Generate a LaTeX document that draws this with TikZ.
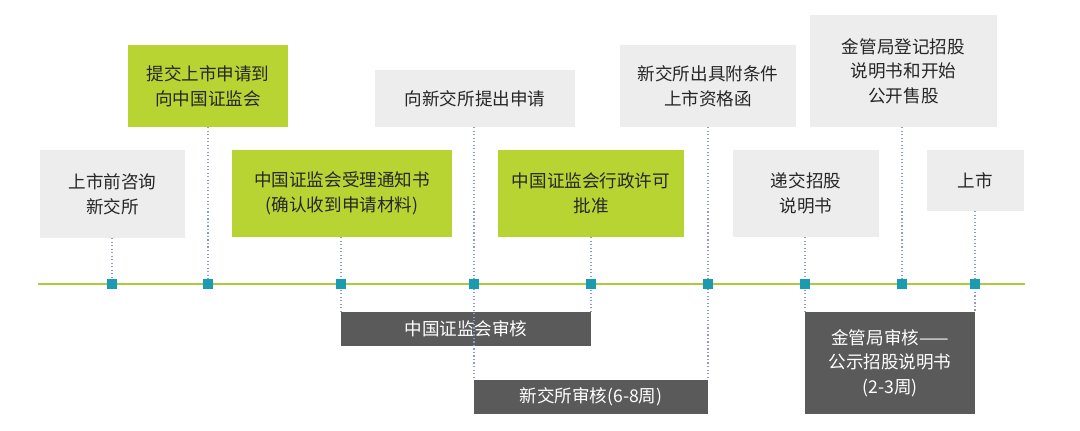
\documentclass[tikz,border=0pt]{standalone}
\usepackage{fontspec}
\setmainfont{Noto Sans CJK SC}
\begin{document}
\begin{tikzpicture}[x=0.03cm,y=-0.03cm,
 gbox/.style={fill=boxgrey,draw=none},
 lbox/.style={fill=limeg,draw=none},
 dbox/.style={fill=darkg,draw=none},
 txt/.style={align=center,font=\fontsize{15}{21}\selectfont,text=black!85},
 wtxt/.style={align=center,font=\fontsize{15}{21}\selectfont,text=white},
 mk/.style={fill=tealc,draw=none,minimum size=0.3cm,inner sep=0},
 dl/.style={draw=dotc,dotted,line width=1pt}]
\definecolor{boxgrey}{HTML}{EDEDED}
\definecolor{limeg}{HTML}{B7D433}
\definecolor{darkg}{HTML}{5A5A5A}
\definecolor{tealc}{HTML}{1A9BB0}
\definecolor{dotc}{HTML}{8A9CC8}
\definecolor{linec}{HTML}{A9CC3A}
\useasboundingbox (0,0) rectangle (1080,431);
% boxes
\path[gbox] (40,150) rectangle (185,238); \node[txt] (t1) at (112.5,194) {上市前咨询\\新交所};
\path[lbox] (128,45) rectangle (288,127); \node[txt] (t2) at (208,86) {提交上市申请到\\向中国证监会};
\path[lbox] (232,150) rectangle (452,237); \node[txt] (t3) at (342,193.5) {中国证监会受理通知书\\(确认收到申请材料)};
\path[gbox] (375,70) rectangle (575,127); \node[txt] (t4) at (475,98.5) {向新交所提出申请};
\path[lbox] (498,150) rectangle (684,237); \node[txt] (t5) at (591,193.5) {中国证监会行政许可\\批准};
\path[gbox] (620,45) rectangle (796,127); \node[txt] (t6) at (708,86) {新交所出具附条件\\上市资格函};
\path[gbox] (733,150) rectangle (879,237); \node[txt] (t7) at (806,193.5) {递交招股\\说明书};
\path[gbox] (810,15) rectangle (997,127); \node[txt] (t8) at (903.5,71) {金管局登记招股\\说明书和开始\\公开售股};
\path[gbox] (927,150) rectangle (1024,211); \node[txt] (t9) at (975.5,180.5) {上市};
% lower boxes
\path[dbox] (341,312) rectangle (591,346); \node[wtxt] (d1) at (466,329) {中国证监会审核};
\path[dbox] (474,380) rectangle (708,414); \node[wtxt] (d2) at (591,397) {新交所审核(6-8周)};
\path[dbox] (805,312) rectangle (975,414); \node[wtxt] (d3) at (890,363) {金管局审核——\\公示招股说明书\\(2-3周)};
% dotted connectors
\coordinate (b1) at (112,238); \coordinate (b2) at (208,127); \coordinate (b3) at (341,237);
\coordinate (b4) at (474,127); \coordinate (b5) at (591,237); \coordinate (b6) at (708,127);
\coordinate (b7) at (805,237); \coordinate (b8) at (902,127); \coordinate (b9) at (975,211);
\coordinate (e3) at (341,312); \coordinate (e4) at (474,380); \coordinate (e5) at (591,312);
\coordinate (e6) at (708,380); \coordinate (e7) at (805,312); \coordinate (e9) at (975,312);
\draw[dl] (b1) -- (112,284); \draw[dl] (b2) -- (208,284);
\draw[dl] (b3) -- (e3); \draw[dl] (b4) -- (e4); \draw[dl] (b5) -- (e5);
\draw[dl] (b6) -- (e6); \draw[dl] (b7) -- (e7); \draw[dl] (b8) -- (902,284); \draw[dl] (b9) -- (e9);
% timeline
\coordinate (L) at (38,284); \coordinate (R) at (1025,284);
\draw[linec,line width=2.2pt] (L) -- (R);
\foreach \x/\n in {112/m1,208/m2,341/m3,474/m4,591/m5,708/m6,805/m7,902/m8,975/m9}
 \node[mk] (\n) at (\x,284) {};
\end{tikzpicture}
\end{document}
